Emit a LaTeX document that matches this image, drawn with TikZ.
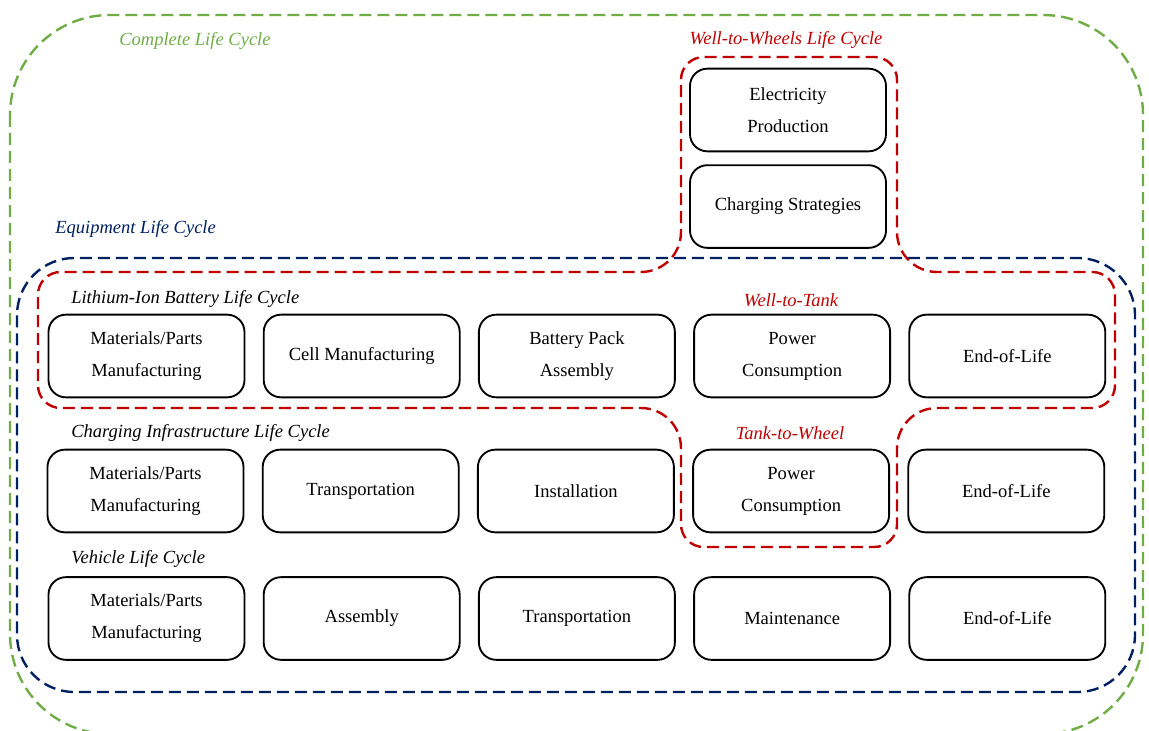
\documentclass[tikz,border=0pt]{standalone}
\usepackage{fontspec}
\setmainfont{Liberation Serif}
\usetikzlibrary{positioning}
\definecolor{lcgreen}{RGB}{112,173,71}
\definecolor{lcred}{RGB}{192,0,0}
\definecolor{lcblue}{RGB}{0,32,96}
\tikzset{
        % Stage boxes
        stagebox/.style={draw=black, rounded corners=13pt, line width=1.4pt, align=center, inner sep=0pt,
                minimum width=147pt, minimum height=62pt, font=\fontsize{13.9}{24}\selectfont},
        % Cycle labels
        cyclelabel/.style={inner sep=0pt, font=\fontsize{13.9}{24}\selectfont\itshape},
        % Dashed outlines
        outline/.style={line width=1.8pt, dash pattern=on 9pt off 4.5pt}
}
\begin{document}
\begin{tikzpicture}[x=0.75pt, y=-0.75pt, node distance=13pt]
    \useasboundingbox (0,0) rectangle (1149,731);
    % Outlines
    \draw[outline, lcgreen, rounded corners=75pt] (10,15) rectangle (1143,734);
    \draw[outline, lcblue, rounded corners=43pt] (17,258) rectangle (1135,692);
    \draw[outline, lcred, rounded corners=17pt] (789,57) -- (897,57)
        [rounded corners=30pt] -- (897,272) [rounded corners=17pt] -- (1115,272) -- (1115,408)
        [rounded corners=30pt] -- (897,408) [rounded corners=17pt] -- (897,547) -- (681,547)
        [rounded corners=30pt] -- (681,408) [rounded corners=17pt] -- (38,408) -- (38,272)
        [rounded corners=30pt] -- (681,272) [rounded corners=17pt] -- (681,57) -- cycle;
    % Labels
    \node[cyclelabel, lcgreen, anchor=west] (complete) at (119,41) {Complete Life Cycle};
    \node[cyclelabel, lcred] (wtw) at (786,40) {Well-to-Wheels Life Cycle};
    \node[cyclelabel, lcblue, anchor=west] (equip) at (55,229) {Equipment Life Cycle};
    \node[cyclelabel, anchor=west] (liblabel) at (71,299) {Lithium-Ion Battery Life Cycle};
    \node[cyclelabel, lcred] (wtt) at (791,300) {Well-to-Tank};
    \node[cyclelabel, anchor=west] (chglabel) at (71,433) {Charging Infrastructure Life Cycle};
    \node[cyclelabel, lcred] (ttw) at (790,433) {Tank-to-Wheel};
    \node[cyclelabel, anchor=west] (vehlabel) at (71,559) {Vehicle Life Cycle};
    % Well-to-Wheels stages
    \node[stagebox] (elec) at (788,110) {Electricity\\Production};
    \node[stagebox, below=9pt of elec] (chgstrat) {Charging Strategies};
    % Lithium-ion battery
    \node[stagebox] (lib1) at (146.5,356) {Materials/Parts\\Manufacturing};
    \node[stagebox, right=of lib1] (lib2) {Cell Manufacturing};
    \node[stagebox, right=of lib2] (lib3) {Battery Pack\\Assembly};
    \node[stagebox, right=of lib3] (lib4) {Power\\Consumption};
    \node[stagebox, right=of lib4] (lib5) {End-of-Life};
    % Charging infrastructure
    \node[stagebox] (chg1) at (145.5,491) {Materials/Parts\\Manufacturing};
    \node[stagebox, right=of chg1] (chg2) {Transportation};
    \node[stagebox, right=of chg2] (chg3) {Installation};
    \node[stagebox, right=of chg3] (chg4) {Power\\Consumption};
    \node[stagebox, right=of chg4] (chg5) {End-of-Life};
    % Vehicle
    \node[stagebox] (veh1) at (146.5,618.5) {Materials/Parts\\Manufacturing};
    \node[stagebox, right=of veh1] (veh2) {Assembly};
    \node[stagebox, right=of veh2] (veh3) {Transportation};
    \node[stagebox, right=of veh3] (veh4) {Maintenance};
    \node[stagebox, right=of veh4] (veh5) {End-of-Life};
\end{tikzpicture}
\end{document}
